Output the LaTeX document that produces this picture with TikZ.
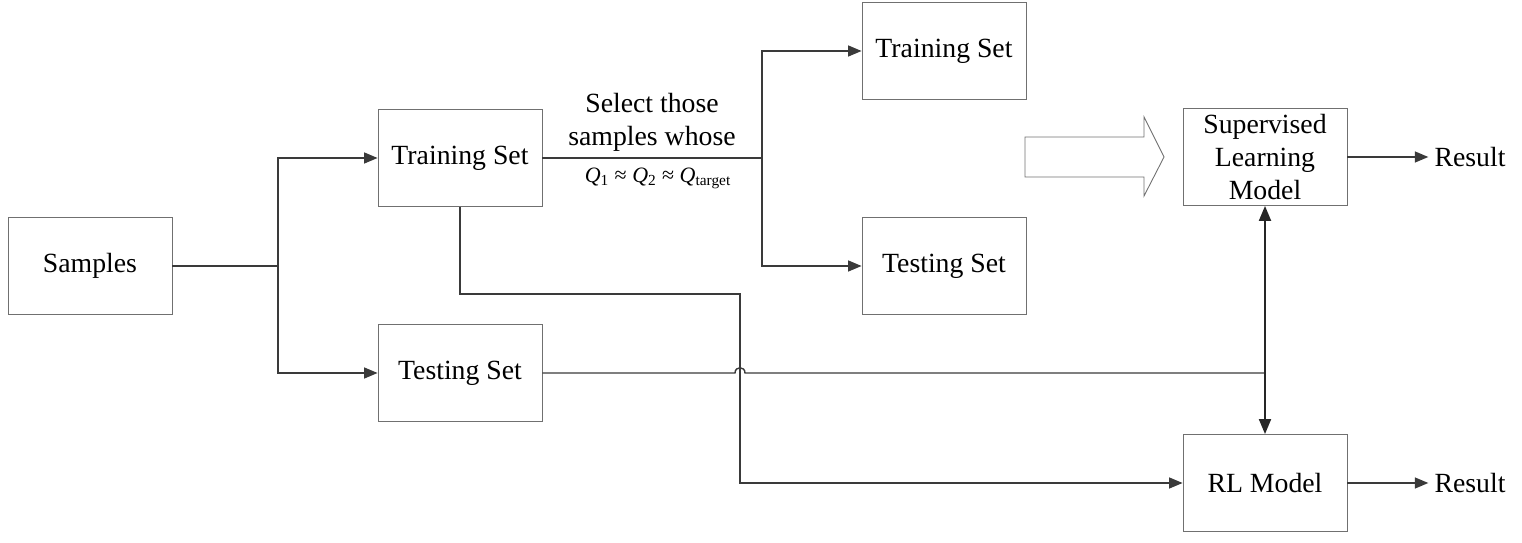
\documentclass[tikz,border=0pt]{standalone}
\usepackage{fontspec}
\setmainfont{Liberation Serif}
\usetikzlibrary{arrows.meta}
\definecolor{box-edge}{HTML}{707070}
\definecolor{line-dark}{HTML}{3A3A3A}

\begin{document}
\begin{tikzpicture}[x=0.02cm, y=-0.02cm,
        every node/.style={font=\fontsize{15.8}{18.8}\selectfont},
        setbox/.style={draw=box-edge, fill=white, line width=0.5pt,
            minimum width=3.28cm, minimum height=1.94cm, inner sep=0pt, align=center},
        flow/.style={draw=line-dark, line width=0.8pt},
        tip/.style={flow, -{Triangle[length=0.27cm, width=0.22cm]}}]
      \useasboundingbox (0,0) rectangle (1522,543);
      % boxes
      \node[setbox] (samples) at (90,266) {Samples};
      \node[setbox] (trainA) at (460,158) {Training Set};
      \node[setbox] (testA) at (460,373) {Testing Set};
      \node[setbox] (trainB) at (944,51) {Training Set};
      \node[setbox] (testB) at (944,266) {Testing Set};
      \node[setbox] (slModel) at (1265,157) {Supervised\\Learning\\Model};
      \node[setbox] (rlModel) at (1265,483) {RL Model};
      \node (resultA) at (1470,157) {Result};
      \node (resultB) at (1470,483) {Result};
      % split points
      \coordinate (splitA) at (278,266);
      \coordinate (splitB) at (762,158);
      \coordinate (turnA) at (460,294);
      \coordinate (turnB) at (740,294);
      \coordinate (hopL) at (735,373);
      \coordinate (hopR) at (745,373);
      \coordinate (joinT) at (1265,373);
      % connectors
      \draw[flow] (samples.east) -- (splitA);
      \draw[tip] (splitA) |- (trainA.west);
      \draw[tip] (splitA) |- (testA.west);
      \draw[flow] (trainA.east) -- (splitB);
      \draw[tip] (splitB) |- (trainB.west);
      \draw[tip] (splitB) |- (testB.west);
      \node[align=center, anchor=south, inner sep=2pt] (selText) at (652,155)
        {Select those\\samples whose};
      \node[anchor=north, font=\fontsize{12.5}{14}\selectfont, inner sep=2pt] (selCond) at (658,164)
        {\textit{Q}\textsubscript{1} ≈ \textit{Q}\textsubscript{2} ≈ \textit{Q}\textsubscript{target}};
      \draw[tip] (trainA.south) -- (turnA) -- (turnB) |- (rlModel.west);
      \draw[flow] (testA.east) -- (hopL) .. controls (735,366) and (745,366) .. (hopR) -- (joinT);
      \draw[line width=1.1pt, draw=black!85, {Triangle[length=0.3cm, width=0.24cm]}-{Triangle[length=0.3cm, width=0.24cm]}]
        (slModel.south) -- (rlModel.north);
      \draw[tip] (slModel.east) -- (resultA.west);
      \draw[tip] (rlModel.east) -- (resultB.west);
      % hollow arrow
      \draw[draw=box-edge, line width=0.5pt, fill=white]
        (1025,137) -- (1144,137) -- (1144,117) -- (1164,157) -- (1144,196)
        -- (1144,177) -- (1025,177) -- cycle;
    \end{tikzpicture}
\end{document}
